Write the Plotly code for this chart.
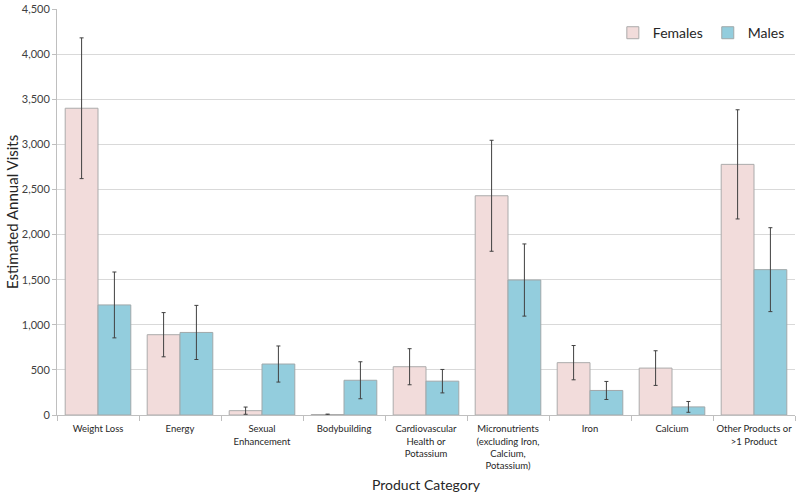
import plotly.graph_objects as go

categories = [
    "Weight Loss",
    "Energy",
    "Sexual<br>Enhancement",
    "Bodybuilding",
    "Cardiovascular<br>Health or<br>Potassium",
    "Micronutrients<br>(excluding Iron,<br>Calcium,<br>Potassium)",
    "Iron",
    "Calcium",
    "Other Products or<br>>1 Product",
]
females = [3400, 890, 48, 5, 535, 2430, 580, 520, 2778]
females_err = [780, 245, 40, 5, 200, 615, 190, 192, 605]
males = [1220, 915, 565, 385, 375, 1496, 272, 90, 1611]
males_err = [365, 300, 200, 205, 130, 400, 100, 60, 465]
y_ticks = [0, 500, 1000, 1500, 2000, 2500, 3000, 3500, 4000, 4500]

FONT = "Lato"
fig = go.Figure()
fig.add_trace(go.Bar(
    name="Females", x=categories, y=females,
    marker=dict(color="#F2DCDB", line=dict(color="#ABABAB", width=1)),
    error_y=dict(type="data", array=females_err, color="#404040", thickness=1, width=2),
))
fig.add_trace(go.Bar(
    name="Males", x=categories, y=males,
    marker=dict(color="#93CDDD", line=dict(color="#A0A8AA", width=1)),
    error_y=dict(type="data", array=males_err, color="#404040", thickness=1, width=2),
))
fig.update_layout(
    width=800, height=497,
    margin=dict(l=57, r=5, t=9, b=82),
    paper_bgcolor="white", plot_bgcolor="white",
    barmode="group", bargap=0.2, bargroupgap=0,
    font=dict(family=FONT, color="#404040"),
    legend=dict(orientation="h", x=0.993, xanchor="right", y=0.98, yanchor="top",
                font=dict(size=14, color="#262626"), traceorder="normal",
                bgcolor="rgba(0,0,0,0)"),
    showlegend=True,
    annotations=[
        dict(text="Product Category", xref="paper", yref="paper", x=0.5, y=-0.172,
             xanchor="center", yanchor="middle", showarrow=False,
             font=dict(size=14, color="#262626")),
        dict(text="Estimated Annual Visits", xref="paper", yref="paper", x=-0.061, y=0.5,
             xanchor="center", yanchor="middle", showarrow=False, textangle=-90,
             font=dict(size=15, color="#262626")),
    ],
)
fig.update_xaxes(
    automargin=False,
    tickfont=dict(size=9.5, color="#262626"),
    ticklabelstandoff=5,
    tickson="boundaries", ticks="outside", ticklen=5, tickcolor="#BFBFBF",
    showline=True, linecolor="#BFBFBF", linewidth=1, tickangle=0,
    showgrid=False,
)
fig.update_yaxes(
    automargin=False,
    range=[0, 4500], tickvals=y_ticks, tickformat=",d",
    tickfont=dict(size=11, color="#404040"),
    ticks="outside", ticklen=4, tickcolor="#BFBFBF",
    showline=True, linecolor="#BFBFBF", linewidth=1,
    showgrid=True, gridcolor="#D9D9D9", gridwidth=1, zeroline=False,
)
fig.write_html("out.html", config={"displayModeBar": False},
               post_script="document.body.style.margin='0';")
